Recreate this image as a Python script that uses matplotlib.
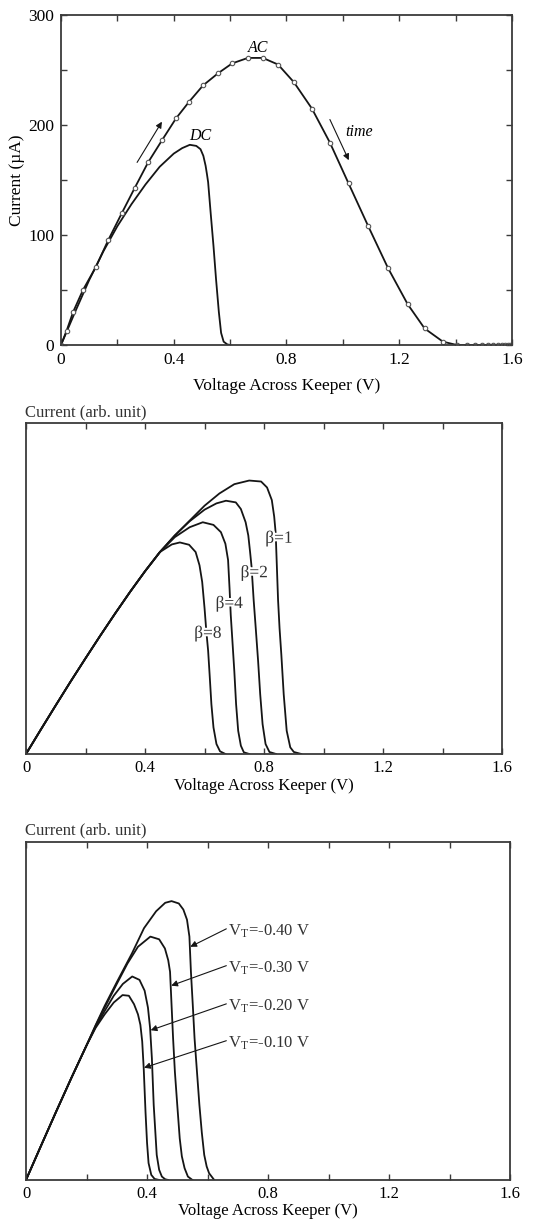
import numpy as np
import matplotlib
matplotlib.use("Agg")
from matplotlib import pyplot as plt
from matplotlib.ticker import MultipleLocator
import matplotlib.patheffects as pe

plt.rcParams['font.family'] = ['Liberation Serif', 'DejaVu Serif']
plt.rcParams['mathtext.fontset'] = 'stix'

# --- panel 1: AC (with markers) and DC keeper current, uA ---
ac_v = [0, 0.02, 0.043, 0.078, 0.124, 0.167, 0.216, 0.262, 0.309, 0.358,
        0.408, 0.454, 0.504, 0.557, 0.607, 0.663, 0.716, 0.77, 0.826, 0.89,
        0.954, 1.02, 1.09, 1.16, 1.23, 1.29, 1.355, 1.404, 1.44, 1.468,
        1.493, 1.514, 1.532, 1.55, 1.564, 1.574, 1.585, 1.593, 1.6]
ac_i = [0, 13, 30, 50, 71, 95, 120, 143, 166, 186,
        206, 221, 236, 247, 256, 261, 261, 255, 239, 215,
        184, 147, 108, 70, 37, 15, 3, 0, 0, 0,
        0, 0, 0, 0, 0, 0, 0, 0, 0]

dc_v = [0, 0.05, 0.1, 0.15, 0.2, 0.25, 0.3, 0.35, 0.4, 0.43, 0.457, 0.48,
        0.495, 0.505, 0.513, 0.518, 0.522, 0.531, 0.541, 0.55, 0.56, 0.568,
        0.577, 0.59, 0.6]
dc_i = [0, 30, 59, 85, 108, 128, 146, 162, 174, 179, 182, 181,
        178, 172, 163, 155, 148, 120, 90, 60, 30, 11,
        3, 0.5, 0]

# --- panel 2: beta sweep (arb. units) ---
beta_labels = ['β=1', 'β=2', 'β=4', 'β=8']
rise_v = [0, 0.05, 0.1, 0.15, 0.2, 0.25, 0.3, 0.35, 0.4, 0.45]
rise_y = [0, 0.074, 0.147, 0.219, 0.289, 0.358, 0.425, 0.49, 0.552, 0.61]
beta_tail_v = [
    [0.5, 0.55, 0.6, 0.65, 0.7, 0.75, 0.79, 0.81, 0.826, 0.834, 0.839, 0.843,
     0.847, 0.852, 0.858, 0.866, 0.876, 0.888, 0.9, 0.925],
    [0.5, 0.55, 0.6, 0.64, 0.672, 0.705, 0.722, 0.738, 0.747, 0.753, 0.758,
     0.765, 0.772, 0.78, 0.787, 0.795, 0.805, 0.818, 0.84],
    [0.5, 0.55, 0.594, 0.63, 0.655, 0.67, 0.679, 0.684, 0.688, 0.693, 0.7,
     0.706, 0.713, 0.722, 0.732, 0.75],
    [0.49, 0.517, 0.548, 0.57, 0.583, 0.592, 0.6, 0.606, 0.612, 0.617, 0.623,
     0.63, 0.64, 0.652, 0.67],
]
beta_tail_y = [
    [0.66, 0.705, 0.75, 0.787, 0.815, 0.826, 0.823, 0.805, 0.767, 0.717,
     0.667, 0.566, 0.465, 0.38, 0.3, 0.18, 0.07, 0.02, 0.006, 0],
    [0.66, 0.703, 0.738, 0.757, 0.765, 0.76, 0.74, 0.7, 0.66, 0.61, 0.565,
     0.465, 0.38, 0.28, 0.18, 0.09, 0.03, 0.006, 0],
    [0.655, 0.685, 0.7, 0.692, 0.67, 0.635, 0.586, 0.5, 0.42, 0.35, 0.25,
     0.15, 0.07, 0.025, 0.005, 0],
    [0.633, 0.639, 0.632, 0.61, 0.57, 0.52, 0.44, 0.37, 0.312, 0.24, 0.15,
     0.08, 0.03, 0.008, 0],
]
beta_pos = [(0.85, 0.65), (0.767, 0.546), (0.683, 0.453), (0.611, 0.363)]

# --- panel 3: threshold voltage sweep (arb. units) ---
vt_labels = ['-0.40', '-0.30', '-0.20', '-0.10']
vt_v = [
    [0, 0.05, 0.1, 0.15, 0.2, 0.23, 0.26, 0.3, 0.35, 0.39, 0.43, 0.46, 0.481,
     0.505, 0.52, 0.532, 0.54, 0.545, 0.551, 0.557, 0.565, 0.573, 0.581,
     0.589, 0.597, 0.605, 0.622],
    [0, 0.05, 0.1, 0.15, 0.2, 0.23, 0.26, 0.3, 0.335, 0.37, 0.411, 0.44,
     0.459, 0.47, 0.476, 0.481, 0.486, 0.492, 0.5, 0.508, 0.515, 0.524,
     0.535, 0.55],
    [0, 0.05, 0.1, 0.15, 0.2, 0.23, 0.26, 0.29, 0.32, 0.351, 0.375, 0.392,
     0.403, 0.41, 0.416, 0.422, 0.432, 0.44, 0.449, 0.46, 0.47],
    [0, 0.05, 0.1, 0.15, 0.2, 0.23, 0.26, 0.29, 0.319, 0.34, 0.357, 0.37,
     0.378, 0.384, 0.389, 0.395, 0.4, 0.405, 0.414, 0.425, 0.44],
]
vt_y = [
    [0, 0.102, 0.203, 0.302, 0.398, 0.458, 0.515, 0.585, 0.67, 0.745, 0.795,
     0.82, 0.825, 0.818, 0.8, 0.77, 0.72, 0.616, 0.52, 0.419, 0.32, 0.222,
     0.14, 0.074, 0.04, 0.02, 0],
    [0, 0.102, 0.203, 0.302, 0.398, 0.456, 0.51, 0.58, 0.64, 0.69, 0.72,
     0.712, 0.685, 0.65, 0.616, 0.518, 0.42, 0.32, 0.22, 0.123, 0.07,
     0.035, 0.01, 0],
    [0, 0.102, 0.203, 0.302, 0.398, 0.453, 0.5, 0.545, 0.58, 0.602, 0.592,
     0.56, 0.51, 0.45, 0.36, 0.222, 0.074, 0.03, 0.01, 0.002, 0],
    [0, 0.102, 0.203, 0.302, 0.398, 0.45, 0.49, 0.525, 0.547, 0.545, 0.52,
     0.49, 0.459, 0.41, 0.33, 0.2, 0.11, 0.05, 0.015, 0.003, 0],
]
vt_heads_v = [0.543, 0.48, 0.412, 0.39]
vt_heads_y = [0.69, 0.575, 0.443, 0.332]
vt_text_y = [0.735, 0.626, 0.513, 0.404]

LINE = '#151515'
SPINE = '#3a3a3a'
FS = 12


def style_axes(ax, yticks=True, fs=FS, pad=4):
    ax.set_xlim(0, 1.6)
    ax.xaxis.set_minor_locator(MultipleLocator(0.2))
    ax.set_xticks([0, 0.4, 0.8, 1.2, 1.6])
    ax.set_xticklabels(['0', '0.4', '0.8', '1.2', '1.6'])
    ax.tick_params(which='both', direction='in', top=True, right=yticks,
                   left=yticks, length=4, width=1.0, color=SPINE,
                   labelsize=fs, pad=pad)
    for s in ax.spines.values():
        s.set_color(SPINE)
        s.set_linewidth(1.3)
    ax.set_xlabel('Voltage Across Keeper (V)', fontsize=fs)


fig = plt.figure(figsize=(5.35, 12.22), dpi=100)

# panel 1
ax1 = fig.add_axes([0.114, 0.7177, 0.843, 0.270])
ax1.plot(dc_v, dc_i, color=LINE, lw=1.3)
ax1.plot(ac_v, ac_i, color=LINE, lw=1.3, marker='o', ms=3.2,
         mfc='white', mec='#555555', mew=0.8)
ax1.set_ylim(0, 300)
ax1.yaxis.set_major_locator(MultipleLocator(100))
ax1.yaxis.set_minor_locator(MultipleLocator(50))
style_axes(ax1, fs=12.5, pad=5)
ax1.set_ylabel('Current (µA)', fontsize=12.5, labelpad=2)
ax1.xaxis.labelpad = 7
ax1.text(0.70, 270, 'AC', style='italic', fontsize=11.5, ha='center', va='center')
ax1.text(0.493, 190, 'DC', style='italic', fontsize=11.5, ha='center', va='center')
ax1.text(1.007, 194, 'time', style='italic', fontsize=11.5, ha='left', va='center')
arrow_kw = dict(arrowstyle='-|>', color=LINE, lw=0.8, mutation_scale=9,
                shrinkA=0, shrinkB=0)
ax1.annotate('', xy=(0.358, 203), xytext=(0.27, 166), arrowprops=arrow_kw)
ax1.annotate('', xy=(1.021, 168), xytext=(0.954, 205), arrowprops=arrow_kw)

# panel 2
ax2 = fig.add_axes([0.0486, 0.383, 0.890, 0.2709])
for tv, ty in zip(beta_tail_v, beta_tail_y):
    ax2.plot(rise_v + tv, rise_y + ty, color=LINE, lw=1.3)
ax2.set_ylim(0, 1)
ax2.set_yticks([])
style_axes(ax2, yticks=False)
ax2.xaxis.labelpad = 2
for lab, (x, y) in zip(beta_labels, beta_pos):
    ax2.text(x, y, lab, fontsize=12.5, ha='center', va='center', color='#333333',
             path_effects=[pe.withStroke(linewidth=3, foreground='white')])
fig.text(25 / 535, 1 - 412 / 1222, 'Current (arb. unit)', fontsize=FS,
         ha='left', va='center', color='#333333')

# panel 3
ax3 = fig.add_axes([0.0486, 0.0344, 0.905, 0.2766])
for v, y in zip(vt_v, vt_y):
    ax3.plot(v, y, color=LINE, lw=1.3)
ax3.set_ylim(0, 1)
ax3.set_yticks([])
style_axes(ax3, yticks=False)
ax3.xaxis.labelpad = 1
for lab, hx, hy, ty in zip(vt_labels, vt_heads_v, vt_heads_y, vt_text_y):
    ax3.annotate('', xy=(hx, hy), xytext=(0.662, ty + 0.008),
                 arrowprops=arrow_kw)
    ax3.text(0.668, ty, r'V$_\mathregular{T}$=' + lab + ' V', fontsize=FS,
             ha='left', va='center', color='#333333')
fig.text(25 / 535, 1 - 830 / 1222, 'Current (arb. unit)', fontsize=FS,
         ha='left', va='center', color='#333333')

fig.savefig('out.png', dpi=100)
